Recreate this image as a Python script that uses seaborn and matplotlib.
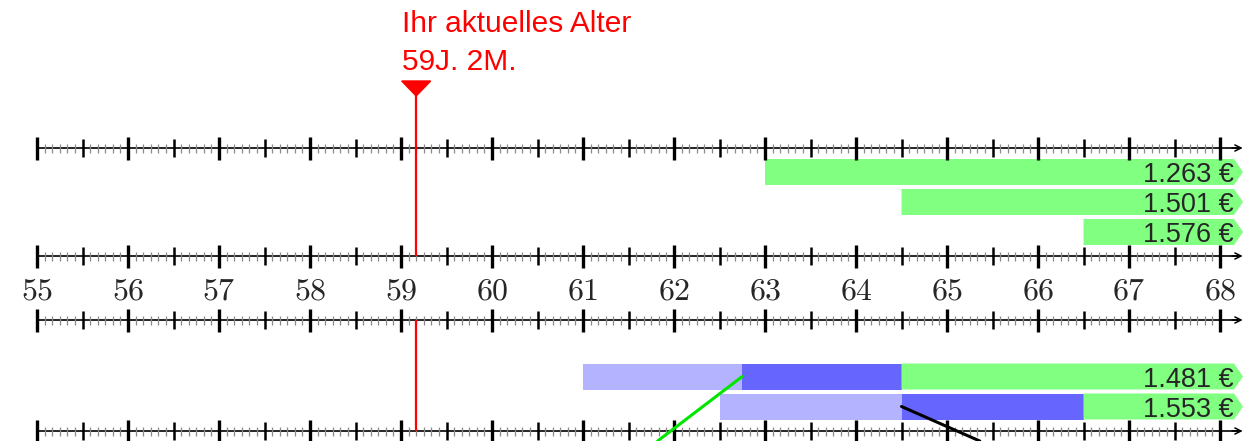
"""
Rentenzeitstrahl: aktuelles Alter und moegliche Rentenbeginne
"""
import numpy as np
import pandas as pd
import matplotlib
matplotlib.use("Agg")
import matplotlib.pyplot as plt
from matplotlib.patches import Polygon
import seaborn as sns

# ── data ────────────────────────────────────────────────────────────
AGES          = list(range(55, 69))
CURRENT_AGE   = 59 + 2 / 12
CURRENT_TEXT  = ["Ihr aktuelles Alter", "59J. 2M."]

TOP_START     = [63.0, 64.5, 66.5]
TOP_LABELS    = ["1.263 €", "1.501 €", "1.576 €"]

LOW_PARTIAL   = [61.0, 62.5]      # light blue phase starts
LOW_BRIDGE    = [62.75, 64.5]     # dark blue phase starts
LOW_FULL      = [64.5, 66.5]      # green phase starts
LOW_LABELS    = ["1.481 €", "1.553 €"]

LINK_FROM     = [62.75, 64.5]
LINK_TO       = [61.82, 65.36]
LINK_ROW      = [0, 1]
LINK_COLORS   = ["#00e600", "black"]

# ── styling / layout (pixel rows) ───────────────────────────────────
GREEN = "#80ff80"; LIGHT = "#b3b3ff"; BLUE = "#6666ff"; RED = "#ff0000"
W, H   = 1245, 441
X0, PX = 37, 91                       # px of age 55, px per year
AXIS_Y = [148, 256, 320, 431]
TOP_Y  = [172, 202, 232]
LOW_Y  = [376.5, 406.5]
BAR_H  = 26
END    = 68 + 14 / PX                 # open end of bars
TIP    = 68 + 23 / PX
SANS   = ["Liberation Sans", "DejaVu Sans"]

sns.set_style("white")
plt.rcParams["mathtext.fontset"] = "cm"

fig = plt.figure(figsize=(W / 100, H / 100), dpi=100)
ax = fig.add_axes([0, 0, 1, 1])
ax.set_xlim(55 - X0 / PX, 55 + (W - X0) / PX)
ax.set_ylim(H, 0)
ax.axis("off")


def draw_axis(y):
    ax.plot([AGES[0], 68.2], [y, y], color="black", lw=1.2, zorder=4)
    ax.annotate("", xy=(68.28, y), xytext=(68.1, y),
                arrowprops=dict(arrowstyle="->", color="black", lw=1.1,
                                mutation_scale=11), zorder=4)
    months = AGES[0] + np.arange((AGES[-1] - AGES[0]) * 12 + 1) / 12
    k = np.arange(len(months))
    minor = months[k % 6 != 0]
    half = months[(k % 6 == 0) & (k % 12 != 0)]
    major = months[k % 12 == 0]
    ax.vlines(minor, y - 4.5, y + 4.5, color="#8a8a8a", lw=0.9, zorder=4)
    ax.vlines(half, y - 9, y + 9, color="black", lw=1.8, zorder=4)
    ax.vlines(major, y - 11.5, y + 11.5, color="black", lw=2.4, zorder=4)


def arrow_bar(start, y, color):
    h = BAR_H / 2
    pts = [(start, y - h), (END, y - h), (TIP, y), (END, y + h), (start, y + h)]
    ax.add_patch(Polygon(pts, closed=True, facecolor=color, edgecolor="none", zorder=2))


for y in AXIS_Y:
    draw_axis(y)

# age labels between the two middle axes
for a in AGES:
    ax.text(a, 300, f"${a}$", ha="center", va="baseline", fontsize=23)

# upper block: plain pension bars
for s, y, lab in zip(TOP_START, TOP_Y, TOP_LABELS):
    arrow_bar(s, y, GREEN)
    ax.text(END - 0.005, y + 10.5, lab, ha="right", va="baseline",
            fontsize=19.5, family=SANS, zorder=5)

# lower block: partial / bridge / full pension
for p, b, f, y, lab in zip(LOW_PARTIAL, LOW_BRIDGE, LOW_FULL, LOW_Y, LOW_LABELS):
    ax.barh(y, b - p, left=p, height=BAR_H, color=LIGHT, lw=0, zorder=2)
    ax.barh(y, f - b, left=b, height=BAR_H, color=BLUE, lw=0, zorder=2)
    arrow_bar(f, y, GREEN)
    ax.text(END - 0.005, y + 10.5, lab, ha="right", va="baseline",
            fontsize=19.5, family=SANS, zorder=5)

# connector lines leaving the figure at the bottom
for x0, x1, r, c in zip(LINK_FROM, LINK_TO, LINK_ROW, LINK_COLORS):
    df = pd.DataFrame({"age": [x0, x1], "y": [LOW_Y[r], H]})
    sns.lineplot(data=df, x="age", y="y", color=c, lw=2.2, ax=ax,
                 sort=False, zorder=5)

# current age marker
half_w = 14.5 / PX
ax.add_patch(Polygon([(CURRENT_AGE - half_w, 81), (CURRENT_AGE + half_w, 81),
                      (CURRENT_AGE, 96)], closed=True, color=RED, zorder=6))
ax.vlines(CURRENT_AGE, 95, AXIS_Y[1], color=RED, lw=1.6, zorder=5)
ax.vlines(CURRENT_AGE, AXIS_Y[2], AXIS_Y[3], color=RED, lw=1.6, zorder=5)
ax.text(CURRENT_AGE - half_w, 32, CURRENT_TEXT[0], color=RED, fontsize=21.5,
        family=SANS, va="baseline", ha="left")
ax.text(CURRENT_AGE - half_w, 70, CURRENT_TEXT[1], color=RED, fontsize=21.5,
        family=SANS, va="baseline", ha="left")

ax.set_xlabel(""); ax.set_ylabel("")
fig.savefig("out.png", dpi=100, facecolor="white")
